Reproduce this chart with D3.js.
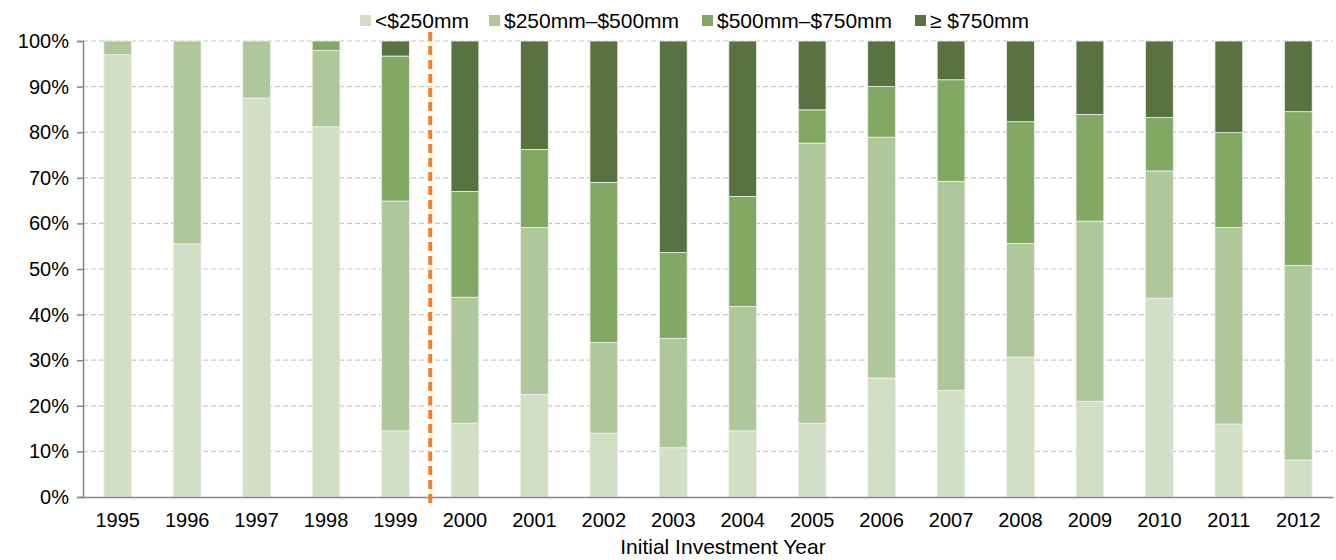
<!DOCTYPE html>
<html>
<head>
<meta charset="utf-8">
<script src="https://cdn.jsdelivr.net/npm/d3@7"></script>
<style>
  body { margin: 0; background: #fff; }
  svg { font-family: "Liberation Sans", Arial, sans-serif; }
</style>
</head>
<body>
<div id="chart"></div>
<script>
// categories and series (percent of total per year)
var years = ["1995","1996","1997","1998","1999","2000","2001","2002","2003","2004","2005","2006","2007","2008","2009","2010","2011","2012"];
var seriesNames = ["<$250mm", "$250mm\u2013$500mm", "$500mm\u2013$750mm", "\u2265 $750mm"];
var under250 = [97.0, 55.5, 87.5, 81.2, 14.5, 16.2, 22.5, 14.0, 10.8, 14.5, 16.2, 26.1, 23.4, 30.7, 21.0, 43.6, 16.0, 8.1];
var from250to500 = [3.0, 44.5, 12.5, 16.7, 50.4, 27.6, 36.6, 19.9, 24.0, 27.3, 61.4, 52.8, 45.8, 24.9, 39.5, 27.9, 43.1, 42.7];
var from500to750 = [0, 0, 0, 2.1, 31.8, 23.2, 17.1, 35.1, 18.8, 24.1, 7.3, 11.1, 22.3, 26.7, 23.4, 11.7, 20.8, 33.7];
var over750 = [0, 0, 0, 0, 3.3, 33.0, 23.8, 31.0, 46.4, 34.1, 15.1, 10.0, 8.5, 17.7, 16.1, 16.8, 20.1, 15.5];
var yTicks = [0, 10, 20, 30, 40, 50, 60, 70, 80, 90, 100];
var markerAfter = "1999"; // dashed divider sits between this year and the next

var width = 1336, height = 560;
var margin = {top: 41, right: 3, bottom: 63, left: 83};

var colors = ["#d2dfc6", "#afc79b", "#82a864", "#587341"];

var rows = years.map(function(y, i) {
    return {year: y, s0: under250[i], s1: from250to500[i], s2: from500to750[i], s3: over750[i]};
});

var svg = d3.select("#chart").append("svg")
    .attr("width", width)
    .attr("height", height);

var x = d3.scaleBand()
    .domain(years)
    .range([margin.left, width - margin.right])
    .paddingInner(0.6)
    .paddingOuter(0.3);

var y = d3.scaleLinear()
    .domain([0, 100])
    .range([height - margin.bottom, margin.top]);

// gridlines
svg.append("g")
    .selectAll("line")
    .data(yTicks.filter(function(d) { return d > 0; }))
    .enter()
    .append("line")
    .attr("x1", margin.left)
    .attr("x2", width - margin.right)
    .attr("y1", function(d) { return y(d); })
    .attr("y2", function(d) { return y(d); })
    .attr("stroke", "#c8c8c8")
    .attr("stroke-width", 1.2)
    .attr("stroke-dasharray", "5,3");

// stacked bars
var stack = d3.stack().keys(["s0", "s1", "s2", "s3"]);
var layers = stack(rows);

svg.selectAll("g.layer")
    .data(layers)
    .enter()
    .append("g")
    .attr("class", "layer")
    .attr("fill", function(d, i) { return colors[i]; })
    .selectAll("rect")
    .data(function(d) { return d; })
    .enter()
    .append("rect")
    .attr("x", function(d) { return x(d.data.year); })
    .attr("width", x.bandwidth())
    .attr("y", function(d) { return y(d[1]); })
    .attr("height", function(d) { return Math.max(0, y(d[0]) - y(d[1])); })
    .attr("stroke", "#eef3ea")
    .attr("stroke-width", 0.8);

// y axis
var yAxis = svg.append("g")
    .attr("transform", "translate(" + margin.left + ",0)")
    .call(d3.axisLeft(y).tickValues(yTicks).tickFormat(function(d) { return d + "%"; }).tickSize(6).tickPadding(8));
yAxis.select(".domain").attr("stroke", "#868686").attr("stroke-width", 1.5);
yAxis.selectAll(".tick line").attr("stroke", "#868686").attr("stroke-width", 1.5);
yAxis.selectAll("text").style("font-size", "20px").attr("fill", "#000");

// x axis
var xAxis = svg.append("g")
    .attr("transform", "translate(0," + (height - margin.bottom) + ")")
    .call(d3.axisBottom(x).tickSize(0).tickPadding(16).tickSizeOuter(0));
xAxis.select(".domain").attr("stroke", "#868686").attr("stroke-width", 1.5);
xAxis.selectAll("text").style("font-size", "20px").attr("fill", "#000");

svg.append("text")
    .attr("x", 723)
    .attr("y", 554)
    .attr("text-anchor", "middle")
    .style("font-size", "21px")
    .text("Initial Investment Year");

// dashed divider between 1999 and 2000
var xi = years.indexOf(markerAfter);
var divX = (x(years[xi]) + x.bandwidth() + x(years[xi + 1])) / 2;
svg.append("line")
    .attr("x1", divX)
    .attr("x2", divX)
    .attr("y1", 32)
    .attr("y2", height - margin.bottom + 6)
    .attr("stroke", "#f47f25")
    .attr("stroke-width", 4)
    .attr("stroke-dasharray", "9,5");

// legend
var legendX = [360, 489, 702, 915];
var legend = svg.append("g");
seriesNames.forEach(function(name, i) {
    legend.append("rect")
        .attr("x", legendX[i])
        .attr("y", 15)
        .attr("width", 11)
        .attr("height", 11)
        .attr("fill", colors[i]);
    legend.append("text")
        .attr("x", legendX[i] + 15)
        .attr("y", 28)
        .style("font-size", "21px")
        .text(name);
});
</script>
</body>
</html>
